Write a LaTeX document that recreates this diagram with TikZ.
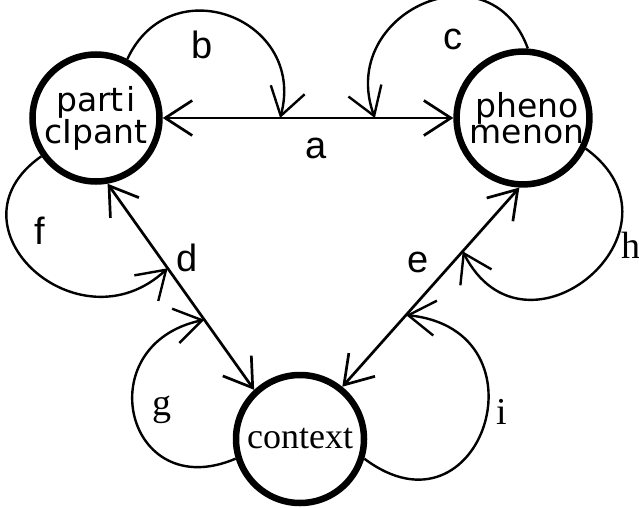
\documentclass[tikz,border=0pt]{standalone}
\usepackage{fontspec}
\newfontfamily\statesans{DejaVu Sans}
\newfontfamily\labsans{Liberation Sans}
\newfontfamily\labserif{Liberation Serif}
\usetikzlibrary{arrows.meta}

\tikzset{
  state/.style={circle, draw, line width=6.5pt, inner sep=0pt, minimum size=#1},
  sanstext/.style={font=\statesans\fontsize{33}{24}\selectfont, align=center},
  link/.style={line width=2.7pt, <->},
  selfarc/.style={line width=2.4pt, ->},
  labs/.style={font=\labsans\fontsize{38}{38}\selectfont, inner sep=0pt},
  labr/.style={font=\labserif\fontsize{38}{38}\selectfont, inner sep=0pt}
}

\begin{document}
\begin{tikzpicture}[x=1pt, y=1pt, >={Straight Barb[length=27pt, width=35pt]}]
\useasboundingbox (0,0) rectangle (639,507);

% the three states
\node[state=127pt, sanstext] (P) at (96,389) {part\kern3pt i\\cIpant};
\node[state=124pt, sanstext, font=\statesans\fontsize{33}{26}\selectfont]
  (Q) at (523,389) {\hspace*{8pt}pheno\\\hspace*{8pt}menon};
\node[state=128pt, font=\labserif\fontsize{36}{36}\selectfont] (C) at (300,68) {context};

% links between states, with points where the self-arcs land
\draw[link] (P.east) -- (Q.west)
  coordinate[pos=0.404] (ab) coordinate[pos=0.73] (ac);
\draw[link] (P.-80) -- (C.133)
  coordinate[pos=0.41] (df) coordinate[pos=0.66] (dg);
\draw[link] (C.51) -- (Q.-93)
  coordinate[pos=0.36] (ei) coordinate[pos=0.68] (eh);

% arcs from each state back onto a link
\draw[selfarc] (P.62) to[out=65, in=75, looseness=1.6] (ab);
\draw[selfarc] (Q.86) to[out=110, in=110, looseness=1.7] (ac);
\draw[selfarc] (P.215) to[out=215, in=223, looseness=1.85] (df);
\draw[selfarc] (C.197) to[out=203, in=192, looseness=2.15] (dg);
\draw[selfarc] (Q.-26) to[out=-36, in=-63, looseness=2.2] (eh);
\draw[selfarc] (C.-17) to[out=-37, in=-6, looseness=2.5] (ei);

% labels
\node[labs] (la) at (316,359) {a};
\node[labs] (lb) at (202,462) {b};
\node[labs] (lc) at (453,468) {c};
\node[labs] (ld) at (187,249) {d};
\node[labs] (le) at (418,245) {e};
\node[labs] (lf) at (40,276) {f};
\node[labr] (lg) at (162,97) {g};
\node[labr] (lh) at (631,262) {h};
\node[labr] (li) at (502,95) {i};
\end{tikzpicture}
\end{document}
